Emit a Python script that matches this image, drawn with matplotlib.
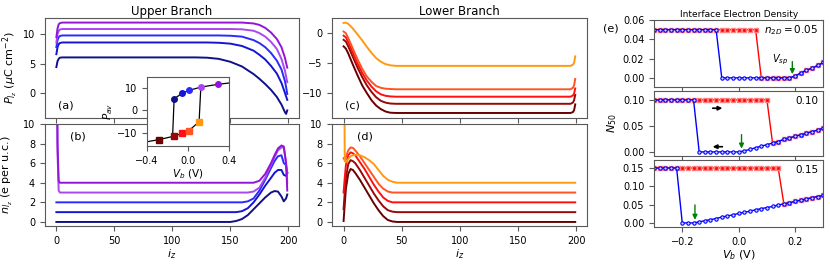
import matplotlib.pyplot as plt

plt.rcParams["axes.edgecolor"] = "0.35"
plt.rcParams["xtick.color"] = "0.35"
plt.rcParams["ytick.color"] = "0.35"
plt.rcParams["xtick.labelcolor"] = "black"
plt.rcParams["ytick.labelcolor"] = "black"
plt.rcParams["xtick.labelsize"] = 7
plt.rcParams["ytick.labelsize"] = 7
plt.rcParams["axes.labelsize"] = 8

# ---- upper branch: polarization and electrons along i_z ----
iz_up = [0, 1, 2, 3, 5, 120, 130, 140, 150, 160, 170, 175, 180, 185, 190, 194, 197, 198, 199]
p_up = [
    [4.4, 5.4, 5.8, 6.0, 6.05, 6.05, 6.0, 5.8, 5.3, 4.5, 3.2, 2.4, 1.5, 0.5, -0.7, -2.0, -3.3, -3.6, -3.0],
    [6.6, 7.8, 8.3, 8.5, 8.6, 8.6, 8.6, 8.55, 8.4, 8.0, 7.2, 6.5, 5.7, 4.6, 3.3, 1.7, 0.0, -0.6, -1.2],
    [7.8, 9.0, 9.5, 9.7, 9.8, 9.8, 9.8, 9.8, 9.75, 9.6, 9.0, 8.5, 7.8, 6.8, 5.5, 4.0, 2.0, 1.0, -0.2],
    [8.6, 10.0, 10.6, 10.8, 10.9, 10.9, 10.9, 10.9, 10.9, 10.85, 10.6, 10.2, 9.6, 8.7, 7.5, 5.8, 3.8, 2.8, 1.8],
    [9.5, 11.0, 11.7, 11.9, 12.0, 12.0, 12.0, 12.0, 12.0, 12.0, 11.85, 11.6, 11.1, 10.3, 9.2, 7.8, 6.0, 5.1, 4.3],
]

iz_nup = [0, 1, 2, 3, 140, 150, 155, 160, 165, 170, 175, 180, 185, 188, 191, 194, 196, 198, 199]
n_up = [
    [0.0, 0.0, 0.0, 0.0, 0.0, 0.0, 0.1, 0.3, 0.7, 1.3, 1.9, 2.5, 3.0, 3.15, 3.1, 2.6, 2.1, 2.4, 2.8],
    [1.0, 1.0, 1.0, 1.0, 1.0, 1.0, 1.0, 1.1, 1.4, 2.0, 2.8, 3.7, 4.5, 5.0, 5.3, 5.3, 4.8, 4.7, 5.0],
    [2.0, 2.0, 2.0, 2.0, 2.0, 2.0, 2.0, 2.0, 2.1, 2.4, 3.2, 4.3, 5.5, 6.2, 6.7, 6.8, 6.0, 5.8, 5.0],
    [25.0, 7.0, 3.2, 3.0, 3.0, 3.0, 3.0, 3.0, 3.0, 3.1, 3.5, 4.5, 5.8, 6.6, 7.3, 7.6, 7.6, 6.0, 4.0],
    [25.0, 8.0, 4.2, 4.0, 4.0, 4.0, 4.0, 4.0, 4.0, 4.0, 4.2, 4.9, 6.0, 6.8, 7.5, 7.8, 7.7, 6.0, 3.2],
]

# ---- lower branch ----
iz_low = [0, 2, 4, 8, 12, 16, 20, 24, 28, 32, 36, 40, 45, 50, 190, 195, 197, 198, 199]
p_low = [
    [-2.2, -2.6, -3.4, -5.3, -7.1, -8.8, -10.1, -11.3, -12.2, -12.8, -13.2, -13.4, -13.45, -13.45, -13.45, -13.45, -13.3, -13.0, -12.0],
    [-1.1, -1.4, -2.2, -4.0, -5.8, -7.4, -8.8, -9.9, -10.8, -11.4, -11.7, -11.85, -11.9, -11.9, -11.9, -11.9, -11.7, -11.3, -10.4],
    [-0.4, -0.7, -1.5, -3.3, -5.1, -6.7, -8.0, -9.0, -9.8, -10.3, -10.55, -10.65, -10.7, -10.7, -10.7, -10.7, -10.5, -10.2, -9.3],
    [0.3, 0.0, -0.8, -2.6, -4.4, -6.0, -7.3, -8.2, -8.9, -9.2, -9.35, -9.4, -9.45, -9.45, -9.45, -9.45, -9.2, -8.8, -7.7],
    [1.75, 1.8, 1.6, 0.8, -0.2, -1.2, -2.3, -3.3, -4.2, -4.8, -5.2, -5.4, -5.5, -5.5, -5.5, -5.5, -5.3, -5.0, -3.9],
]

iz_nlow = [0, 1, 2, 4, 6, 8, 10, 14, 18, 22, 26, 30, 34, 38, 42, 46, 50, 199]
n_low = [
    [0.1, 1.8, 3.4, 4.9, 5.4, 5.3, 5.0, 4.3, 3.5, 2.7, 1.9, 1.2, 0.6, 0.2, 0.05, 0.0, 0.0, 0.0],
    [1.3, 3.0, 4.5, 5.9, 6.3, 6.2, 6.0, 5.3, 4.5, 3.7, 2.9, 2.2, 1.6, 1.2, 1.05, 1.0, 1.0, 1.0],
    [3.0, 4.5, 5.8, 6.8, 7.1, 7.0, 6.8, 6.1, 5.4, 4.6, 3.8, 3.1, 2.5, 2.15, 2.0, 2.0, 2.0, 2.0],
    [6.5, 6.3, 6.6, 7.3, 7.6, 7.55, 7.3, 6.7, 6.0, 5.3, 4.6, 3.9, 3.4, 3.1, 3.0, 3.0, 3.0, 3.0],
    [30.0, 6.2, 6.1, 6.4, 6.7, 6.8, 6.85, 6.8, 6.6, 6.3, 5.9, 5.3, 4.7, 4.3, 4.1, 4.0, 4.0, 4.0],
]

up_colors = ["#10108a", "#1414d2", "#2a2aff", "#a848ee", "#9414d8"]
low_colors = ["#6a0000", "#980808", "#ff1010", "#ff5522", "#ff9a10"]

# ---- inset: average polarization vs bias ----
vb_up = [-0.135, -0.054, 0.008, 0.128, 0.293]
pav_up = [5.2, 7.7, 8.9, 10.4, 11.6]
vb_low = [-0.278, -0.135, -0.054, 0.008, 0.108]
pav_low = [-12.9, -11.4, -10.1, -9.0, -5.0]
loop_v = [0.4, 0.293, 0.128, 0.008, -0.054, -0.135, -0.15, -0.135, -0.278, -0.4]
loop_p = [12.2, 11.6, 10.4, 8.9, 7.7, 5.2, -11.5, -11.4, -12.9, -13.9]
loop_v2 = [-0.135, -0.054, 0.008, 0.108, 0.125]
loop_p2 = [-11.4, -10.1, -9.0, -5.0, 10.4]

# ---- (e) interface electron density ----
vb = [-0.30, -0.28, -0.26, -0.24, -0.22, -0.20, -0.18, -0.16, -0.14, -0.12, -0.10,
      -0.08, -0.06, -0.04, -0.02, 0.00, 0.02, 0.04, 0.06, 0.08, 0.10,
      0.12, 0.14, 0.16, 0.18, 0.20, 0.22, 0.24, 0.26, 0.28, 0.30]
n2d = [0.05, 0.10, 0.15]
n50_fwd = [
    [0.05] * 19 + [0.0] * 6 + [0.002, 0.005, 0.008, 0.010, 0.013, 0.016],
    [0.10] * 21 + [0.017, 0.020, 0.024, 0.027, 0.030, 0.033, 0.036, 0.039, 0.042, 0.046],
    [0.15] * 23 + [0.052, 0.055, 0.059, 0.062, 0.065, 0.069, 0.072, 0.075],
]
n50_bwd = [
    [0.05] * 12 + [0.0] * 13 + [0.002, 0.005, 0.008, 0.010, 0.013, 0.016],
    [0.10] * 8 + [0.0] * 8 + [0.002, 0.005, 0.008, 0.011, 0.014, 0.017, 0.020, 0.024,
                              0.027, 0.030, 0.033, 0.036, 0.039, 0.042, 0.046],
    [0.15] * 5 + [0.0] * 3 + [0.003, 0.006, 0.009, 0.012, 0.016, 0.019, 0.022, 0.026,
                              0.029, 0.032, 0.036, 0.039, 0.042, 0.045, 0.049, 0.052,
                              0.055, 0.059, 0.062, 0.065, 0.069, 0.072, 0.075],
]
v_sp = [0.19, 0.01, -0.155]
e_ylims = [(-0.0095, 0.06), (-0.0077, 0.117), (-0.011, 0.172)]
e_yticks = [[0.0, 0.02, 0.04, 0.06], [0.0, 0.05, 0.10], [0.0, 0.05, 0.10, 0.15]]
e_labels = ["$n_{2D} = 0.05$", "0.10", "0.15"]

fig = plt.figure(figsize=(8.3, 2.67), dpi=100)
ax_a = fig.add_axes([0.054, 0.558, 0.306, 0.375])
ax_b = fig.add_axes([0.054, 0.154, 0.306, 0.382], sharex=ax_a)
ax_c = fig.add_axes([0.400, 0.558, 0.307, 0.375])
ax_d = fig.add_axes([0.400, 0.154, 0.307, 0.382], sharex=ax_c)

for k in range(5):
    ax_a.plot(iz_up, p_up[k], color=up_colors[k], lw=1.4)
    ax_b.plot(iz_nup, n_up[k], color=up_colors[k], lw=1.4)
    ax_c.plot(iz_low, p_low[k], color=low_colors[k], lw=1.4)
    ax_d.plot(iz_nlow, n_low[k], color=low_colors[k], lw=1.4)

ax_a.set_xlim(-9.95, 208.95)
ax_c.set_xlim(-9.95, 208.95)
for ax in (ax_a, ax_c):
    ax.set_xticks([0, 50, 100, 150, 200])
    ax.tick_params(labelbottom=False)
ax_a.set_ylim(-4.3, 12.8)
ax_c.set_ylim(-14.3, 2.6)
ax_a.set_yticks([0, 5, 10])
ax_c.set_yticks([-10, -5, 0])
for ax in (ax_b, ax_d):
    ax.set_ylim(-0.4, 10)
    ax.set_yticks([0, 2, 4, 6, 8, 10])
    ax.set_xlabel("$i_z$", labelpad=1)

ax_a.set_ylabel(r"$P_{l_z}$ ($\mu$C cm$^{-2}$)", labelpad=2)
ax_b.set_ylabel(r"$n_{l_z}$ (e per u.c.)", labelpad=6)
ax_a.set_title("Upper Branch", fontsize=8.5, pad=2)
ax_c.set_title("Lower Branch", fontsize=8.5, pad=2)

ax_a.text(0.05, 0.12, "(a)", transform=ax_a.transAxes, fontsize=8, va="center")
ax_b.text(0.10, 0.88, "(b)", transform=ax_b.transAxes, fontsize=8, va="center")
ax_c.text(0.05, 0.12, "(c)", transform=ax_c.transAxes, fontsize=8, va="center")
ax_d.text(0.10, 0.88, "(d)", transform=ax_d.transAxes, fontsize=8, va="center")

# inset
ax_in = fig.add_axes([0.177, 0.453, 0.099, 0.259])
ax_in.plot(loop_v, loop_p, color="black", lw=0.9)
ax_in.plot(loop_v2, loop_p2, color="black", lw=0.9)
for k in range(5):
    ax_in.plot(vb_up[k], pav_up[k], "o", color=up_colors[k], ms=4)
    ax_in.plot(vb_low[k], pav_low[k], "s", color=low_colors[k], ms=4)
ax_in.set_xlim(-0.4, 0.4)
ax_in.set_ylim(-15.8, 14.9)
ax_in.set_xticks([-0.4, 0.0, 0.4])
ax_in.set_yticks([-10, 0, 10])
ax_in.set_xlabel("$V_b$ (V)", fontsize=7.5, labelpad=1)
ax_in.set_ylabel("$P_{av}$", fontsize=7.5, labelpad=1)

# (e) panels
e_axes = [
    fig.add_axes([0.788, 0.674, 0.204, 0.251]),
    fig.add_axes([0.788, 0.416, 0.204, 0.243]),
    fig.add_axes([0.788, 0.150, 0.204, 0.251]),
]
for i, ax in enumerate(e_axes):
    ax.plot(vb, n50_fwd[i], "-s", color="red", lw=1.0, ms=3.2,
            mec=(1.0, 0.5, 0.5), mew=1.0)
    ax.plot(vb, n50_bwd[i], "-o", color="blue", lw=1.0, ms=2.4,
            mfc=(0.85, 0.85, 1.0), mew=0.8)
    ax.set_xlim(-0.3, 0.3)
    ax.set_ylim(*e_ylims[i])
    ax.set_yticks(e_yticks[i])
    ax.set_xticks([-0.2, 0.0, 0.2])
    ax.text(0.97, 0.85, e_labels[i], transform=ax.transAxes, ha="right",
            va="center", fontsize=7.5)
    top = e_ylims[i][1]
    ax.annotate("", xy=(v_sp[i], 0.001), xytext=(v_sp[i], 0.33 * top),
                arrowprops=dict(arrowstyle="-|>", color="green", lw=1.0,
                                mutation_scale=7))
    if i < 2:
        ax.tick_params(labelbottom=False)

e_axes[0].set_title("Interface Electron Density", fontsize=6.5, pad=2)
e_axes[0].text(0.175, 0.019, "$V_{sp}$", ha="right", va="center", fontsize=7)
e_axes[1].annotate("", xy=(-0.048, 0.084), xytext=(-0.102, 0.084),
                   arrowprops=dict(arrowstyle="-|>", color="black", lw=1.2,
                                   mutation_scale=6))
e_axes[1].annotate("", xy=(-0.102, 0.010), xytext=(-0.048, 0.010),
                   arrowprops=dict(arrowstyle="-|>", color="black", lw=1.2,
                                   mutation_scale=6))
e_axes[1].set_ylabel("$N_{50}$", labelpad=3)
e_axes[2].set_xlabel("$V_b$ (V)", labelpad=1)
fig.text(0.7265, 0.895, "(e)", fontsize=8, va="center")

fig.savefig("out.png", dpi=100)
